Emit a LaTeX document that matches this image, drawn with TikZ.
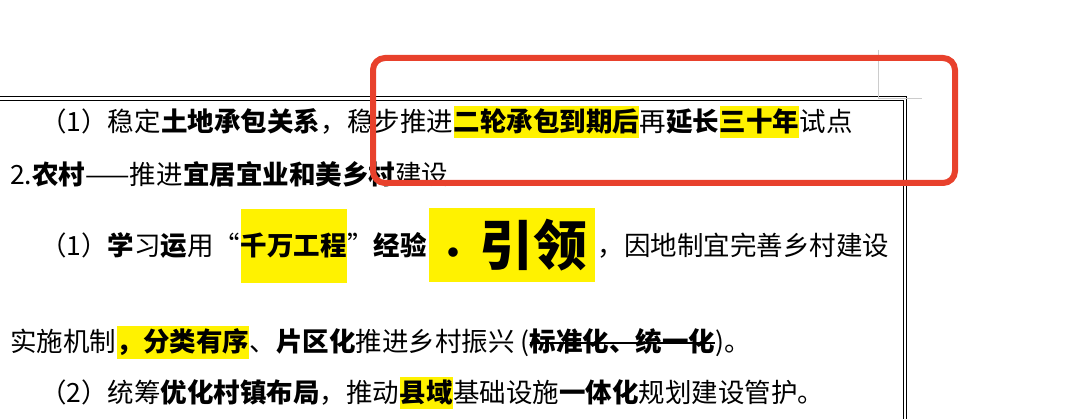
\documentclass[tikz,border=0pt]{standalone}
\usepackage{fontspec}
\setmainfont{Noto Sans CJK SC}
\begin{document}
\begin{tikzpicture}[x=1pt,y=-1pt,
  seg/.style={inner sep=0pt,anchor=base west,font=\fontsize{26.5}{26.5}\selectfont},
  hl/.style={seg,fill=yellow},
  hla/.style={hl,inner ysep=3pt},
  hlb/.style={hl,text height=47pt,text depth=27pt}]
\useasboundingbox (0,0) rectangle (1080,419);
% page frame
\draw[line width=1pt] (-5,97) -- (906,97) -- (906,430);
\draw[line width=0.8pt] (-5,100) -- (903,100) -- (903,430);
\draw[gray!40,line width=0.6pt] (878,50) -- (878,98) -- (922,98);
% line 1
\node[seg] (a1) at (40,132) {（1）稳定};
\node[seg] (a2) at (a1.base east) {\bfseries 土地承包关系};
\node[seg] (a3) at (a2.base east) {，稳步推进};
\node[hla] (a4) at (a3.base east) {\bfseries 二轮承包到期后};
\node[seg] (a5) at (a4.base east) {再};
\node[seg] (a6) at (a5.base east) {\bfseries 延长};
\node[hla] (a7) at (a6.base east) {\bfseries 三十年};
\node[seg] (a8) at (a7.base east) {试点};
% line 2
\node[seg] (b1) at (10,185) {2.\textbf{农村}——推进};
\node[seg] (b2) at (b1.base east) {\bfseries 宜居宜业和美乡村};
\node[seg] (b3) at (b2.base east) {建设};
% line 3
\coordinate (r3) at (0,245);
\node[seg] (c1) at (40,256) {（1）\textbf{学}习\textbf{运}用“};
\node[hlb] (c2) at (c1.base east) {\bfseries 千万工程};
\node[seg] (c3) at (c2.base east) {”\textbf{经验}};
\node[fill=yellow,inner xsep=0pt,inner ysep=0pt,minimum height=74pt,minimum width=166pt,anchor=west,
  font=\fontsize{54}{54}\selectfont\bfseries] (c4) at ([xshift=2pt]c3.base east |- r3) {{\fontsize{34}{34}\selectfont ·}\,引领};
\node[seg] (c5) at ([xshift=2pt]c4.east |- c3.base) {，因地制宜完善乡村建设};
% line 4
\node[seg] (d1) at (10,352) {实施机制};
\node[hla] (d2) at (d1.base east) {\bfseries ，分类有序};
\node[seg] (d3) at (d2.base east) {、\textbf{片区化}推进乡村振兴 (};
\node[seg] (d4) at (d3.base east) {\bfseries 标准化、统一化};
\node[seg] (d5) at (d4.base east) {)。};
\draw[line width=1.5pt] ([yshift=9pt]d4.base west) -- ([yshift=9pt]d4.base east);
% line 5
\node[seg] (e1) at (40,403) {（2）统筹\textbf{优化村镇布局}，推动};
\node[hla] (e2) at (e1.base east) {\bfseries 县域};
\node[seg] (e3) at (e2.base east) {基础设施\textbf{一体化}规划建设管护。};
% red annotation
\draw[color={rgb,255:red,232;green,65;blue,44},line width=6pt,rounded corners=12pt] (373,58) rectangle (955,183);
\end{tikzpicture}
\end{document}
